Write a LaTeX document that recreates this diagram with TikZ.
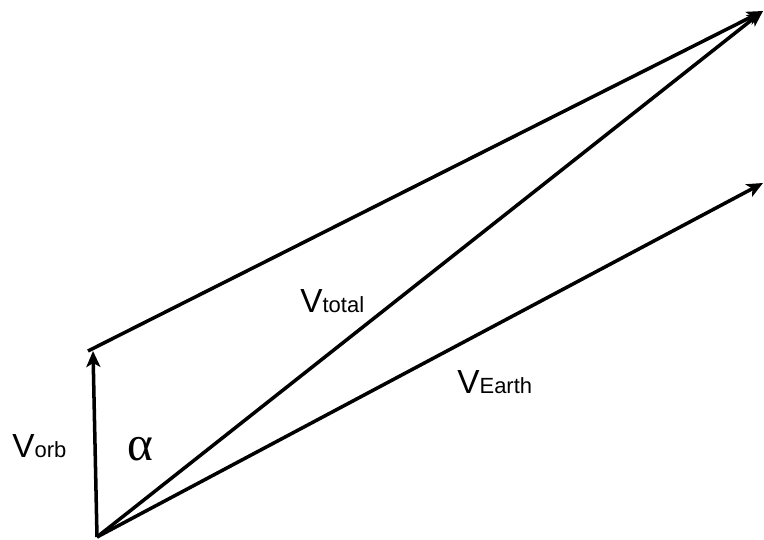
\documentclass[tikz,border=0pt]{standalone}
\usepackage{fontspec}
\setmainfont{Liberation Sans}
\newfontfamily\greekfont{Liberation Serif}
\usetikzlibrary{arrows.meta}

\tikzset{
    vec/.style={line width=2pt, -{Stealth[length=0.32cm, width=0.28cm, inset=0.08cm]}},
    side/.style={line width=2pt},
    vlabel/.style={anchor=base west, inner sep=0pt, font=\fontsize{19}{21}\selectfont}
}

\newcommand{\sublbl}[1]{{\fontsize{12.5}{14}\selectfont #1}}

\begin{document}
\begin{tikzpicture}[x=0.02cm, y=-0.02cm]
    \useasboundingbox (0, 0) rectangle (764, 540);

    % corner points of the parallelogram
    \coordinate (origin) at (97, 537);
    \coordinate (orbtip) at (93, 351);
    \coordinate (orbend) at (88, 351);
    \coordinate (totaltip) at (763, 11);
    \coordinate (earthtip) at (763, 183);

    % velocity vectors
    \draw[vec] (origin) -- (orbtip);
    \draw[vec] (origin) -- (totaltip);
    \draw[vec] (origin) -- (earthtip);

    % shifted copy of the earth vector
    \draw[vec] (orbend) -- (totaltip);

    % labels
    \node[vlabel] (vorb) at (12, 458) {V\sublbl{orb}};
    \node[vlabel] (vtotal) at (300, 313) {V\sublbl{total}};
    \node[vlabel] (vearth) at (457, 394) {V\sublbl{Earth}};
    \node[anchor=base west, inner sep=0pt, font=\greekfont\fontsize{28}{30}\selectfont] (alpha) at (127, 460) {α};
\end{tikzpicture}
\end{document}
